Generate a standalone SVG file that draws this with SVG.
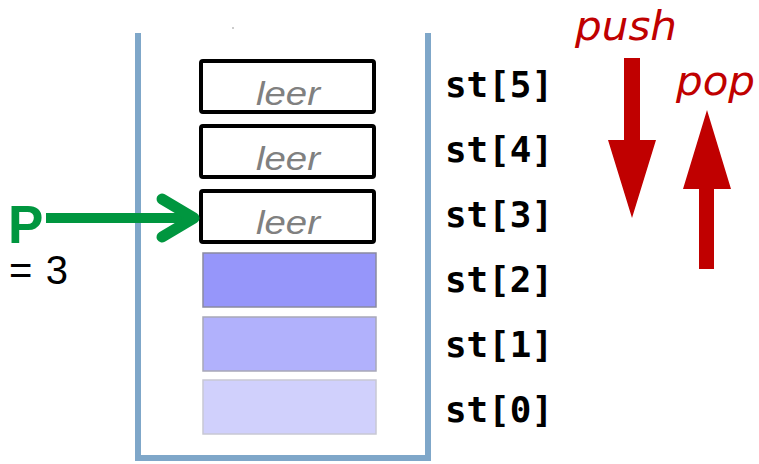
<svg xmlns="http://www.w3.org/2000/svg" width="759" height="464" viewBox="0 0 759 464">
<style>
.empty{fill:#fff;stroke:#000;stroke-width:4}
.leer{font-family:"Liberation Sans",Arial,sans-serif;font-style:italic;font-size:34px;fill:#808080;text-anchor:middle}
.idx{font-family:"DejaVu Sans Mono","Liberation Mono",monospace;font-weight:bold;font-size:35px;fill:#000}
.red{fill:#c00000}
.redtxt{font-family:"DejaVu Sans",Verdana,sans-serif;font-style:italic;font-size:40px;fill:#c00000}
</style>
<rect width="759" height="464" fill="#fff"/>
<g id="container">
<path d="M138,33 V458 H428 V33" fill="none" stroke="#7fa7c9" stroke-width="6"/>
<circle cx="233" cy="28" r="1" fill="#bbb"/>
</g>
<g id="cell5"><rect class="empty" x="201" y="61" width="173" height="51" rx="2"/><text class="leer" x="288" y="105" textLength="64" lengthAdjust="spacingAndGlyphs">leer</text></g>
<g id="cell4"><rect class="empty" x="201" y="126" width="173" height="51" rx="2"/><text class="leer" x="288" y="170" textLength="64" lengthAdjust="spacingAndGlyphs">leer</text></g>
<g id="cell3"><rect class="empty" x="201" y="191" width="173" height="51" rx="2"/><text class="leer" x="288" y="234" textLength="64" lengthAdjust="spacingAndGlyphs">leer</text></g>
<g id="cell2"><rect x="203" y="253" width="173" height="54" fill="#9696fa" stroke="#8a8aa0" stroke-width="1.5"/></g>
<g id="cell1"><rect x="203" y="317" width="173" height="54" fill="#b1b1fc" stroke="#a8a8b8" stroke-width="1.5"/></g>
<g id="cell0"><rect x="203" y="380" width="173" height="54" fill="#d0d0fc" stroke="#c8c8d4" stroke-width="1.5"/></g>
<g id="labels">
<text class="idx" x="445" y="97" textLength="108" lengthAdjust="spacingAndGlyphs">st[5]</text>
<text class="idx" x="445" y="162" textLength="108" lengthAdjust="spacingAndGlyphs">st[4]</text>
<text class="idx" x="445" y="227" textLength="108" lengthAdjust="spacingAndGlyphs">st[3]</text>
<text class="idx" x="445" y="292" textLength="108" lengthAdjust="spacingAndGlyphs">st[2]</text>
<text class="idx" x="445" y="357" textLength="108" lengthAdjust="spacingAndGlyphs">st[1]</text>
<text class="idx" x="445" y="422" textLength="108" lengthAdjust="spacingAndGlyphs">st[0]</text>
</g>
<g id="pointer">
<text x="8" y="243" font-family="Liberation Sans,Arial,sans-serif" font-weight="bold" font-size="53" fill="#00963f">P</text>
<text x="9" y="284" font-family="Liberation Sans,Arial,sans-serif" font-size="40" fill="#000" textLength="59" lengthAdjust="spacing">= 3</text>
</g>
<g id="connectors">
<line x1="46" y1="218" x2="190" y2="218" stroke="#00963f" stroke-width="10"/>
<polyline points="162,199 194,218 162,237" fill="none" stroke="#00963f" stroke-width="11" stroke-linecap="round" stroke-linejoin="round"/>
</g>
<g id="push">
<text class="redtxt" x="575" y="40" textLength="102" lengthAdjust="spacingAndGlyphs">push</text>
<polygon class="red" points="624,58 640,58 640,140 656,140 632,218 608,140 624,140"/>
</g>
<g id="pop">
<text class="redtxt" x="676" y="95" textLength="79" lengthAdjust="spacingAndGlyphs">pop</text>
<polygon class="red" points="707,110 731,189 714,189 714,269 699,269 699,189 683,189"/>
</g>
</svg>
